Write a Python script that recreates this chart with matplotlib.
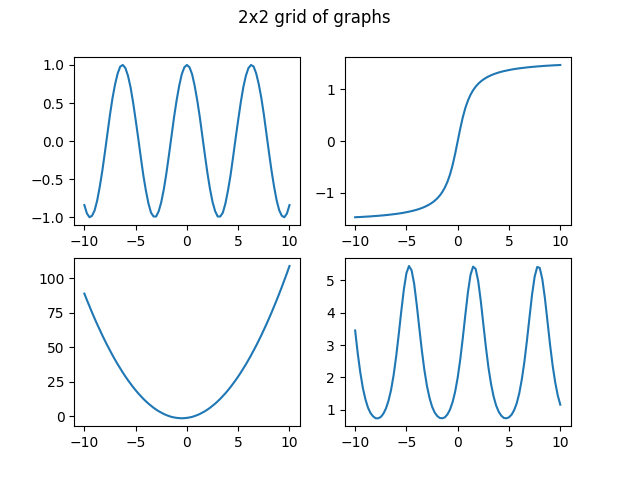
import matplotlib
matplotlib.use('Agg')
import matplotlib.pyplot as plt
import numpy as np

# sample positions along x, -10 to 10 in steps of 0.25
x = np.linspace(-10, 10, 81)

# values
wave = [-0.84, -0.95, -1.00, -0.98, -0.91, -0.78, -0.60, -0.39, -0.15, 0.10,
        0.35, 0.57, 0.75, 0.89, 0.98, 1.00, 0.96, 0.86, 0.71, 0.51,
        0.28, 0.04, -0.21, -0.45, -0.65, -0.82, -0.94, -0.99, -0.99, -0.92,
        -0.80, -0.63, -0.42, -0.18, 0.07, 0.32, 0.54, 0.73, 0.88, 0.97,
        1.00,
        0.97, 0.88, 0.73, 0.54, 0.32, 0.07, -0.18, -0.42, -0.63, -0.80,
        -0.92, -0.99, -0.99, -0.94, -0.82, -0.65, -0.45, -0.21, 0.04, 0.28,
        0.51, 0.71, 0.86, 0.96, 1.00, 0.98, 0.89, 0.75, 0.57, 0.35,
        0.10, -0.15, -0.39, -0.60, -0.78, -0.91, -0.98, -1.00, -0.95, -0.84]

step = [-1.471, -1.468, -1.466, -1.463, -1.460, -1.457, -1.454, -1.450, -1.446, -1.443,
        -1.438, -1.434, -1.429, -1.424, -1.418, -1.412, -1.406, -1.399, -1.391, -1.383,
        -1.373, -1.363, -1.352, -1.340, -1.326, -1.310, -1.293, -1.272, -1.249, -1.222,
        -1.190, -1.153, -1.107, -1.052, -0.983, -0.896, -0.785, -0.644, -0.464, -0.245,
        0.000,
        0.245, 0.464, 0.644, 0.785, 0.896, 0.983, 1.052, 1.107, 1.153, 1.190,
        1.222, 1.249, 1.272, 1.293, 1.310, 1.326, 1.340, 1.352, 1.363, 1.373,
        1.383, 1.391, 1.399, 1.406, 1.412, 1.418, 1.424, 1.429, 1.434, 1.438,
        1.443, 1.446, 1.450, 1.454, 1.457, 1.460, 1.463, 1.466, 1.468, 1.471]

bowl = [89.0, 84.3, 79.8, 75.3, 71.0, 66.8, 62.8, 58.8, 55.0, 51.3,
        47.8, 44.3, 41.0, 37.8, 34.8, 31.8, 29.0, 26.3, 23.8, 21.3,
        19.0, 16.8, 14.8, 12.8, 11.0, 9.3, 7.8, 6.3, 5.0, 3.8,
        2.8, 1.8, 1.0, 0.3, -0.3, -0.7, -1.0, -1.2, -1.3, -1.2,
        -1.0,
        -0.7, -0.3, 0.3, 1.0, 1.8, 2.8, 3.8, 5.0, 6.3, 7.8,
        9.3, 11.0, 12.8, 14.8, 16.8, 19.0, 21.3, 23.8, 26.3, 29.0,
        31.8, 34.8, 37.8, 41.0, 44.3, 47.8, 51.3, 55.0, 58.8, 62.8,
        66.8, 71.0, 75.3, 79.8, 84.3, 89.0, 93.8, 98.8, 103.8, 109.0]

pulses = [3.45, 2.75, 2.16, 1.68, 1.33, 1.07, 0.90, 0.80, 0.74, 0.74,
          0.78, 0.88, 1.04, 1.28, 1.61, 2.07, 2.65, 3.33, 4.05, 4.72,
          5.22, 5.44, 5.31, 4.90, 4.26, 3.54, 2.84, 2.23, 1.74, 1.37,
          1.10, 0.92, 0.81, 0.75, 0.74, 0.77, 0.86, 1.01, 1.24, 1.56,
          2.00,
          2.56, 3.23, 3.95, 4.64, 5.17, 5.42, 5.35, 4.97, 4.36, 3.64,
          2.93, 2.30, 1.80, 1.41, 1.13, 0.94, 0.82, 0.75, 0.74, 0.77,
          0.85, 0.99, 1.20, 1.51, 1.94, 2.48, 3.14, 3.86, 4.56, 5.11,
          5.41, 5.38, 5.03, 4.45, 3.74, 3.02, 2.38, 1.86, 1.45, 1.16]

fig, axs = plt.subplots(2, 2, figsize=(6.28, 4.78), dpi=100)
fig.subplots_adjust(left=0.118, right=0.9085, top=0.880, bottom=0.109,
                    wspace=0.2, hspace=0.2)
fig.suptitle('2x2 grid of graphs', y=0.982)

axs[0, 0].plot(x, wave)
axs[0, 1].plot(x, step)
axs[1, 0].plot(x, bowl)
axs[1, 1].plot(x, pulses)

fig.savefig('out.png', dpi=100)
